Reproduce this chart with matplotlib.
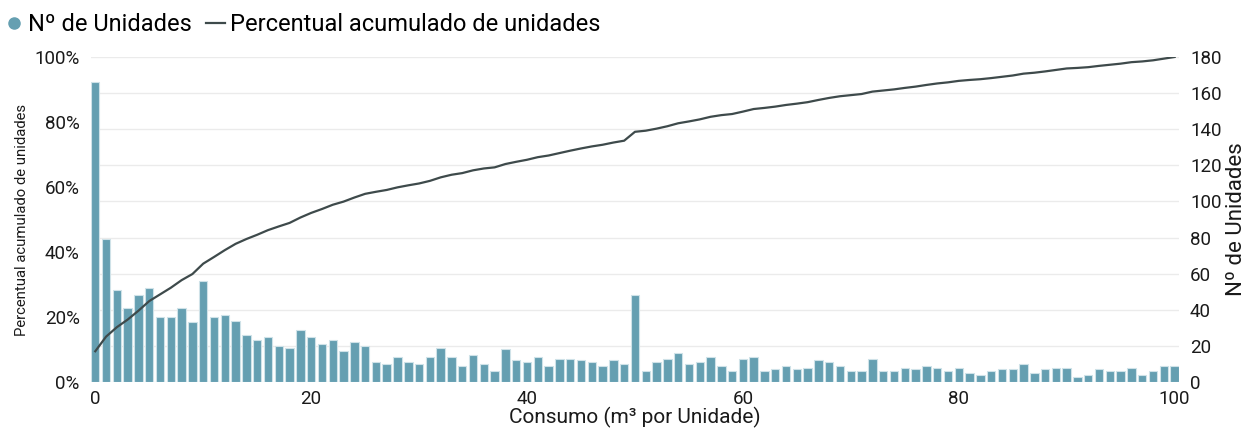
import numpy as np
import matplotlib
matplotlib.use("Agg")
import matplotlib.pyplot as plt
from matplotlib.lines import Line2D
from matplotlib.ticker import FuncFormatter, MultipleLocator

# ---- data ----
consumo = list(range(0, 101))
unidades = [166, 79, 51, 41, 48, 52, 36, 36, 41, 33, 56, 36, 37, 34, 26, 23, 25, 20, 19, 29, 25, 21, 23, 17, 22,
            20, 11, 10, 14, 11, 10, 14, 19, 14, 9, 15, 10, 6, 18, 12, 11, 14, 9, 13, 13, 12, 11, 9, 12, 10,
            48, 6, 11, 13, 16, 10, 11, 14, 9, 6, 13, 14, 6, 7, 9, 7, 8, 12, 11, 9, 6, 6, 13, 6, 6,
            8, 7, 9, 8, 6, 8, 5, 4, 6, 7, 7, 10, 5, 7, 8, 8, 3, 4, 7, 6, 6, 8, 4, 6, 9, 9]
x_ticks = [0, 20, 40, 60, 80, 100]
left_ticks = [0, 20, 40, 60, 80, 100]
right_ticks = [0, 20, 40, 60, 80, 100, 120, 140, 160, 180]

# cumulative percentage derived from the unit counts
u = np.array(unidades, dtype=float)
percentual = np.cumsum(u) / u.sum() * 100

plt.rcParams['font.family'] = ['Roboto', 'DejaVu Sans']

BAR = '#659fb1'
LINE = '#3e4a4b'
TXT = '#1a1a1a'

fig = plt.figure(figsize=(12.53, 4.33), dpi=100)
ax_line = fig.add_axes([0.0726, 0.1178, 0.8683, 0.7506])
ax_bar = ax_line.twinx()

# bars (right axis)
ax_bar.bar(consumo, unidades, width=0.78, color=BAR, edgecolor='#cfe2e8', linewidth=0.8, zorder=2)
ax_bar.set_ylim(0, 180)
ax_bar.yaxis.set_major_locator(MultipleLocator(20))
ax_bar.set_yticks(right_ticks)
ax_bar.grid(axis='y', color='#ebebeb', linewidth=1.0, zorder=0)
ax_bar.set_axisbelow(True)
ax_bar.set_ylabel('Nº de Unidades', fontsize=16, color=TXT, labelpad=3)

# line (left axis) on top
ax_line.set_zorder(ax_bar.get_zorder() + 1)
ax_line.patch.set_visible(False)
ax_line.plot(consumo, percentual, color=LINE, linewidth=1.6, zorder=3)
ax_line.set_ylim(0, 100)
ax_line.set_yticks(left_ticks)
ax_line.yaxis.set_major_formatter(FuncFormatter(lambda v, p: f'{v:.0f}%'))
ax_line.set_ylabel('Percentual acumulado de unidades', fontsize=10.7, color=TXT, labelpad=4)
ax_line.set_xlim(-0.4, 100.4)
ax_line.set_xticks(x_ticks)
ax_line.set_xlabel('Consumo (m³ por Unidade)', fontsize=15, color=TXT, labelpad=-1)

for a in (ax_line, ax_bar):
    for s in a.spines.values():
        s.set_visible(False)
    a.tick_params(length=0, labelsize=13.5, colors=TXT)
ax_line.tick_params(axis='y', pad=8)
ax_bar.tick_params(axis='y', pad=8)
ax_line.tick_params(axis='x', pad=6)

handles = [Line2D([], [], marker='o', linestyle='none', markersize=8, color=BAR),
           Line2D([], [], color=LINE, linewidth=1.6)]
fig.legend(handles, ['Nº de Unidades', 'Percentual acumulado de unidades'],
           loc='center left', bbox_to_anchor=(0.0, 0.943), ncol=2, frameon=False,
           fontsize=17, handlelength=0.8, handletextpad=0.2, columnspacing=0.6,
           borderaxespad=0.0, borderpad=0.2)

fig.savefig('out.png', dpi=100)
